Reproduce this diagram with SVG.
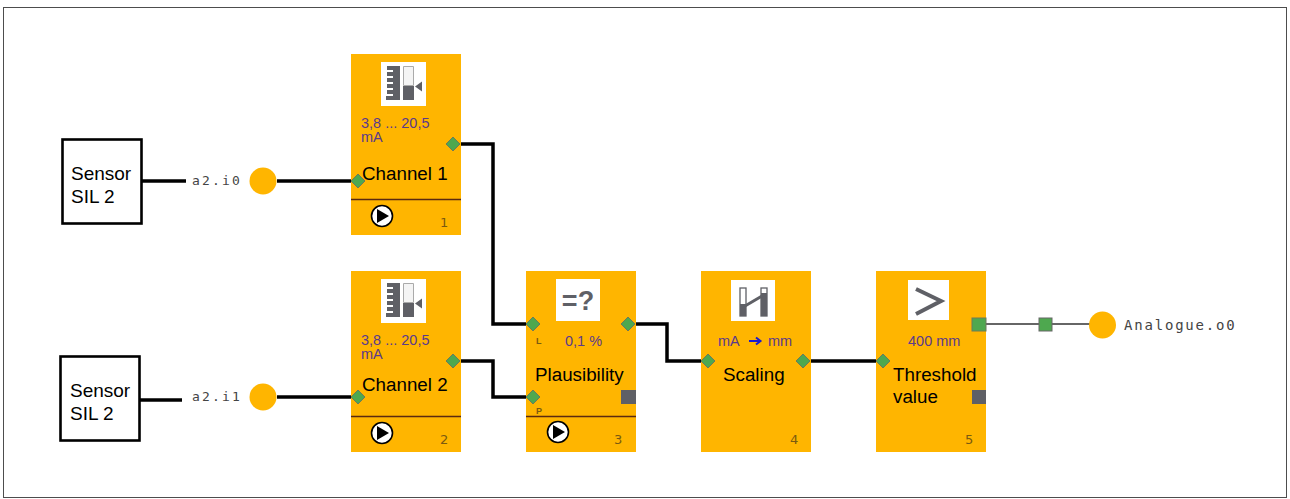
<svg xmlns="http://www.w3.org/2000/svg" width="1290" height="499" viewBox="0 0 1290 499">
<style>
.f{font-family:"Liberation Sans",Arial,sans-serif}
.b{fill:#ffb500}
.lab{font-size:18.800px;fill:#000}
.par{font-size:14.500px;fill:#5a3a8c}
.num{font-size:13px;fill:#7a5a10;font-family:"DejaVu Sans",sans-serif}
.mono{font-family:"DejaVu Sans Mono","Liberation Mono",monospace;font-size:13px;letter-spacing:2.200px;fill:#444}
.wire{fill:none;stroke:#000;stroke-width:3.500}
.thin{fill:none;stroke:#333;stroke-width:1.300}
.sep{stroke:#5a2a10;stroke-width:1.300}
.pin{fill:#4ea84f;stroke:#6d7a5a;stroke-width:1}
.ic{fill:#fff}
.gr{fill:#5f6066}
.box{fill:#fff;stroke:#000;stroke-width:2.600}
.sm{font-size:19px;fill:#000}
.io{fill:#ffb500}
</style>
<defs>
<g id="play"><circle r="10.500" fill="#fff" stroke="#000" stroke-width="1.600"/><path d="M-5-7 7 0-5 7Z" fill="#000"/></g>
<path id="d" d="M0-7 7 0 0 7-7 0Z" class="pin"/>
<g id="gauge"><rect width="45" height="44" class="ic"/><path d="M6 4h13v34H5v-4h7v-2H6v-4h6v-2H6v-4h6v-2H6v-4h6v-2H6v-4h6V8H6Z" class="gr"/><path d="M22.500 4.500h10v19h-10Z" fill="#f4f4f4" stroke="#aaa"/><path d="M22 24h11v14H22Z" class="gr"/><path d="M41 19.500v10l-7-5Z" class="gr"/></g>
</defs>
<rect x="3.500" y="7.500" width="1283" height="490" fill="#fff" stroke="#4d4d4d" stroke-width="1"/>
<g id="connectors">
<path class="wire" d="M142 181H186"/>
<path class="wire" d="M277 181H358"/>
<path class="wire" d="M137 400H182"/>
<path class="wire" d="M277 397H358"/>
<path class="wire" d="M453 144H493V324H533"/>
<path class="wire" d="M453 361H493V397H533"/>
<path class="wire" d="M628 324H667V361H708"/>
<path class="wire" d="M803 361H883"/>
<path class="thin" d="M985 324H1090"/>
</g>
<g id="sensor1"><rect x="62.500" y="139.500" width="79" height="84" class="box"/><text class="f sm" x="71" y="180">Sensor</text><text class="f sm" x="71" y="203">SIL 2</text></g>
<g id="sensor2"><rect x="60.500" y="356.500" width="79" height="84" class="box"/><text class="f sm" x="70" y="397">Sensor</text><text class="f sm" x="70" y="420">SIL 2</text></g>
<g id="input1"><text class="mono" x="192" y="185">a2.i0</text><circle cx="263" cy="181" r="13.500" class="io"/></g>
<g id="input2"><text class="mono" x="192" y="401">a2.i1</text><circle cx="263" cy="397" r="13.500" class="io"/></g>
<g id="block1"><rect x="351" y="54" width="110" height="181" class="b"/>
<use href="#gauge" x="381" y="62"/>
<text class="f par" x="361" y="128">3,8 ... 20,5</text><text class="f par" x="361" y="142">mA</text>
<text class="f lab" x="362" y="180">Channel 1</text>
<path class="sep" d="M351 199.500H461"/><use href="#play" x="382" y="216"/>
<text class="num" x="440" y="227">1</text>
<use href="#d" x="358" y="181"/><use href="#d" x="453" y="144"/></g>
<g id="block2"><rect x="351" y="271" width="110" height="181" class="b"/>
<use href="#gauge" x="381" y="279"/>
<text class="f par" x="361" y="345">3,8 ... 20,5</text><text class="f par" x="361" y="359">mA</text>
<text class="f lab" x="362" y="391">Channel 2</text>
<path class="sep" d="M351 416.500H461"/><use href="#play" x="382" y="433"/>
<text class="num" x="440" y="444">2</text>
<use href="#d" x="358" y="397"/><use href="#d" x="453" y="361"/></g>
<g id="block3"><rect x="526" y="271" width="110" height="181" class="b"/>
<rect x="556" y="279" width="44" height="42" class="ic"/>
<text x="578" y="310" text-anchor="middle" font-family="'Liberation Sans',sans-serif" font-weight="bold" font-size="27" fill="#5f6066">=?</text>
<text class="f par" x="565" y="346">0,1 %</text>
<text class="f lab" x="535" y="381">Plausibility</text>
<path class="sep" d="M526 416.500H636"/><use href="#play" x="558" y="432"/>
<text class="num" x="614" y="444">3</text>
<text x="536" y="344" font-family="'Liberation Sans',sans-serif" font-size="9" font-weight="bold" fill="#7a5a10">L</text>
<text x="536" y="414" font-family="'Liberation Sans',sans-serif" font-size="9" font-weight="bold" fill="#7a5a10">P</text>
<rect x="621" y="390" width="15" height="14" class="gr"/>
<use href="#d" x="533" y="324"/><use href="#d" x="533" y="397"/><use href="#d" x="628" y="324"/></g>
<g id="block4"><rect x="701" y="271" width="110" height="181" class="b"/>
<rect x="731" y="280" width="44" height="41" class="ic"/>
<rect x="740" y="288" width="6" height="28" fill="#fff" stroke="#5f6066" stroke-width="1.300"/>
<rect x="740" y="304" width="6" height="12" class="gr"/>
<rect x="761" y="288" width="6" height="28" fill="#fff" stroke="#5f6066" stroke-width="1.300"/>
<rect x="761" y="293" width="6" height="23" class="gr"/>
<path d="M745 306 762 296" stroke="#5f6066" stroke-width="3" fill="none"/>
<text class="f par" x="718" y="346">mA</text>
<path d="M749 341H760M756 337.500 760.500 341 756 344.500" fill="none" stroke="#1a1ad0" stroke-width="2"/>
<text class="f par" x="768" y="346">mm</text>
<text class="f lab" x="723" y="381">Scaling</text>
<text class="num" x="790" y="444">4</text>
<use href="#d" x="708" y="361"/><use href="#d" x="803" y="361"/></g>
<g id="block5"><rect x="876" y="271" width="110" height="181" class="b"/>
<rect x="908" y="280" width="41" height="40" class="ic"/>
<path d="M916 289 941 301 916 314" fill="none" stroke="#5f6066" stroke-width="4"/>
<text class="f par" x="908" y="346">400 mm</text>
<text class="f lab" x="893" y="381">Threshold</text><text class="f lab" x="893" y="403">value</text>
<text class="num" x="965" y="444">5</text>
<rect x="972" y="390" width="14" height="14" class="gr"/>
<rect x="972" y="318" width="14" height="13" class="pin"/>
<use href="#d" x="883" y="361"/></g>
<g id="output"><rect x="1039" y="318" width="13" height="13" fill="#4ea84f" stroke="#666" stroke-width="1"/><circle cx="1102.500" cy="325" r="13.500" class="io"/><text x="1124" y="330" font-family="'DejaVu Sans Mono','Liberation Mono',monospace" font-size="14" letter-spacing="1.800" fill="#444">Analogue.o0</text></g>
</svg>
